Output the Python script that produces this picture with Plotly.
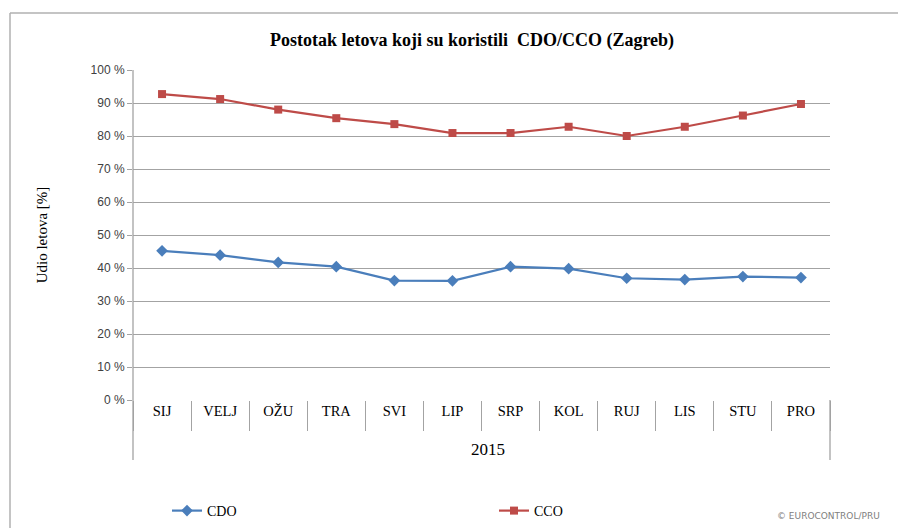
import plotly.graph_objects as go

months = ["SIJ", "VELJ", "OŽU", "TRA", "SVI", "LIP", "SRP", "KOL", "RUJ", "LIS", "STU", "PRO"]
year_label = "2015"
cdo = [45.2, 43.9, 41.7, 40.4, 36.2, 36.1, 40.4, 39.8, 36.9, 36.5, 37.4, 37.1]
cco = [92.7, 91.2, 88.0, 85.4, 83.6, 80.9, 80.9, 82.8, 80.0, 82.8, 86.2, 89.7]
y_ticks = [0, 10, 20, 30, 40, 50, 60, 70, 80, 90, 100]
y_ticktext = [f"{v} %" for v in y_ticks]

W, H = 906, 528
OFF = 8  # page body margin offset
L, T = 133 - OFF, 70 - OFF
pw, ph = 697, 330
R, B = W - L - pw, H - T - ph

def px(x):
    return (x - OFF - L) / pw

def py(y):
    return (T + ph - (y - OFF)) / ph

def cx(x):
    return (x - OFF) / W

def cy(y):
    return 1 - (y - OFF) / H

grid = "#A3A3A3"
serif = "Liberation Serif, Times New Roman, serif"

fig = go.Figure()
fig.add_trace(go.Scatter(
    x=months, y=cdo, name="CDO", mode="lines+markers",
    line=dict(color="#4A7EBB", width=2.2),
    marker=dict(symbol="diamond", size=9, color="#4A7EBB"),
    legend="legend",
))
fig.add_trace(go.Scatter(
    x=months, y=cco, name="CCO", mode="lines+markers",
    line=dict(color="#BE4B48", width=2.2),
    marker=dict(symbol="square", size=8, color="#BE4B48"),
    legend="legend2",
))

shapes = [
    dict(type="line", xref="paper", yref="paper", x0=0, x1=0, y0=1, y1=py(460),
         line=dict(color=grid, width=1.3)),
    dict(type="line", xref="paper", yref="paper", x0=1, x1=1, y0=0, y1=py(460),
         line=dict(color=grid, width=1.3)),
    dict(type="line", xref="paper", yref="paper", x0=px(10), x1=px(920), y0=py(13), y1=py(13),
         line=dict(color="#B0B0B0", width=1.5)),
    dict(type="line", xref="paper", yref="paper", x0=px(10), x1=px(10), y0=py(13), y1=py(540),
         line=dict(color="#B0B0B0", width=1.5)),
]

annotations = [
    dict(text=year_label, xref="paper", yref="paper", x=px(488), y=py(449),
         xanchor="center", yanchor="middle",
         showarrow=False, font=dict(family=serif, size=17, color="#000")),
    dict(text="© EUROCONTROL/PRU", xref="paper", yref="paper", x=px(828), y=py(516),
         xanchor="center", yanchor="middle",
         showarrow=False, font=dict(family="DejaVu Sans, sans-serif", size=9, color="#808080")),
]

legend_common = dict(orientation="h", xref="container", yref="container",
                     xanchor="left", yanchor="middle",
                     font=dict(family=serif, size=14, color="#000"),
                     bgcolor="rgba(0,0,0,0)")

fig.update_layout(
    width=W, height=H,
    margin=dict(l=L, r=R, t=T, b=B, autoexpand=False),
    paper_bgcolor="white", plot_bgcolor="white",
    title=dict(text="<b>Postotak letova koji su koristili  CDO/CCO (Zagreb)</b>",
               x=cx(472), xref="container", xanchor="center",
               y=cy(40), yref="container", yanchor="middle",
               font=dict(family=serif, size=18, color="#000")),
    xaxis=dict(
        type="category", range=[-0.5, 11.5], automargin=False,
        showgrid=False, showline=False, zeroline=False,
        ticks="outside", tickson="boundaries", ticklen=30, tickwidth=1.3, tickcolor=grid,
        tickfont=dict(family=serif, size=14.5, color="#000"),
    ),
    yaxis=dict(
        range=[0, 100], tickvals=y_ticks, ticktext=y_ticktext, automargin=False,
        showgrid=True, gridcolor=grid, gridwidth=1.3,
        zeroline=False, showline=False,
        ticks="outside", ticklen=5, tickcolor=grid, tickwidth=1.3,
        tickfont=dict(family="Liberation Sans, Arial, sans-serif", size=12, color="#404040"),
        title=dict(text="Udio letova [%]", standoff=39,
                   font=dict(family=serif, size=15, color="#000")),
    ),
    showlegend=True,
    legend=dict(x=cx(167), y=cy(511), **legend_common),
    legend2=dict(x=cx(494), y=cy(511), **legend_common),
    shapes=shapes,
    annotations=annotations,
)

fig.write_html("out.html")
